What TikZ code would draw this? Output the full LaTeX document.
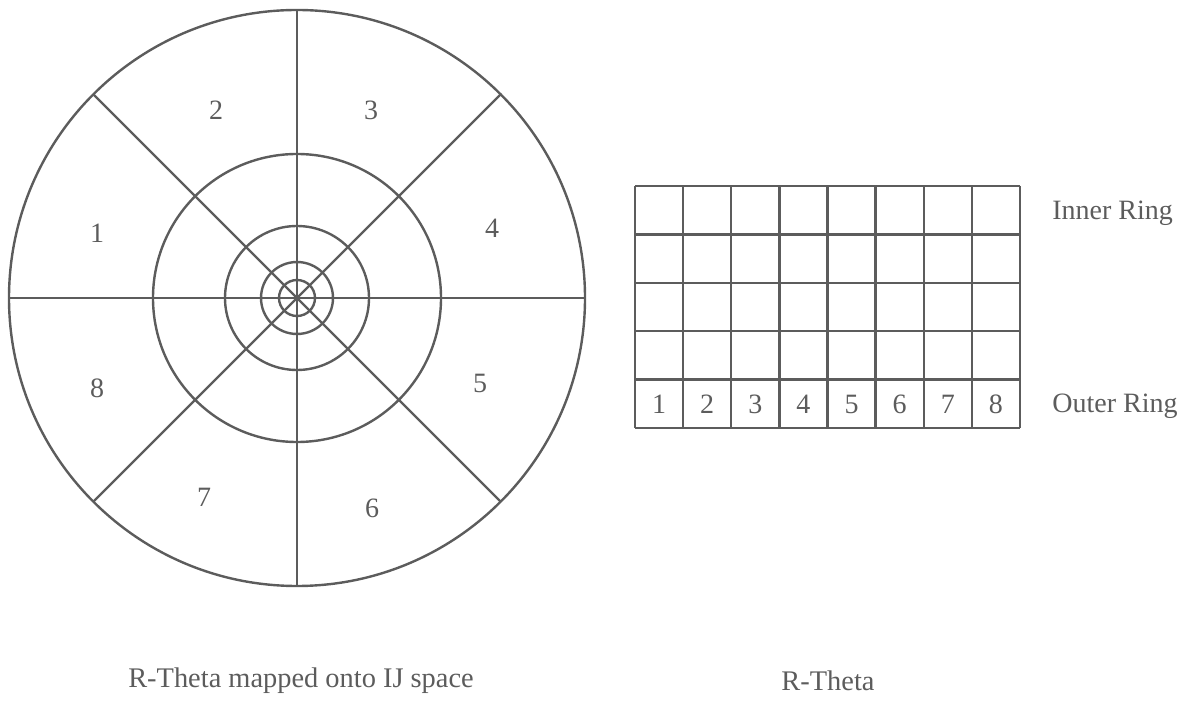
\documentclass[tikz,border=0pt]{standalone}
\usepackage{fontspec}
\setmainfont{Liberation Serif}
\usetikzlibrary{positioning, calc}
\definecolor{inkgray}{HTML}{5C5C5C}

\begin{document}
\begin{tikzpicture}[x=0.5pt, y=-0.5pt,
          ln/.style={draw=inkgray, line width=1.2pt},
          lbl/.style={text=inkgray, font=\fontsize{14}{16}\selectfont, inner sep=0pt},
          captxt/.style={text=inkgray, font=\fontsize{14.2}{17}\selectfont, inner sep=0pt}]
        \useasboundingbox (0,0) rectangle (1193,715);
        % polar disc
        \coordinate (o) at (297,298);
        \foreach \r in {288,144,72,36,18}
          \draw[ln] (o) circle[radius=\r];
        \foreach \a in {0,45,90,135}
          \draw[ln] ($(o)+(\a:288)$) -- ($(o)+(\a+180:288)$);
        \node[lbl] (s1) at (97,233) {1};
        \node[lbl] (s2) at (216,110) {2};
        \node[lbl] (s3) at (371,110) {3};
        \node[lbl] (s4) at (492,228) {4};
        \node[lbl] (s5) at (480,383) {5};
        \node[lbl] (s6) at (372,508) {6};
        \node[lbl] (s7) at (204,497) {7};
        \node[lbl] (s8) at (97,388) {8};
        % r-theta table
        \foreach \i in {0,...,8}
          \draw[ln] (635+48.125*\i,186) -- (635+48.125*\i,428);
        \foreach \j in {0,...,5}
          \draw[ln] (635,186+48.4*\j) -- (1020,186+48.4*\j);
        \foreach \i in {1,...,8}
          \node[lbl] (t\i) at (610.94+48.125*\i,404) {\i};
        \node[lbl, anchor=west] (inner) at (1052,213) {Inner Ring};
        \node[lbl, anchor=west] (outer) at (1052,406) {Outer Ring};
        % captions
        \node[captxt] (left) at (301,681) {R-Theta mapped onto IJ space};
        \node[captxt] (right) at (828,681) {R-Theta};
      \end{tikzpicture}
\end{document}
